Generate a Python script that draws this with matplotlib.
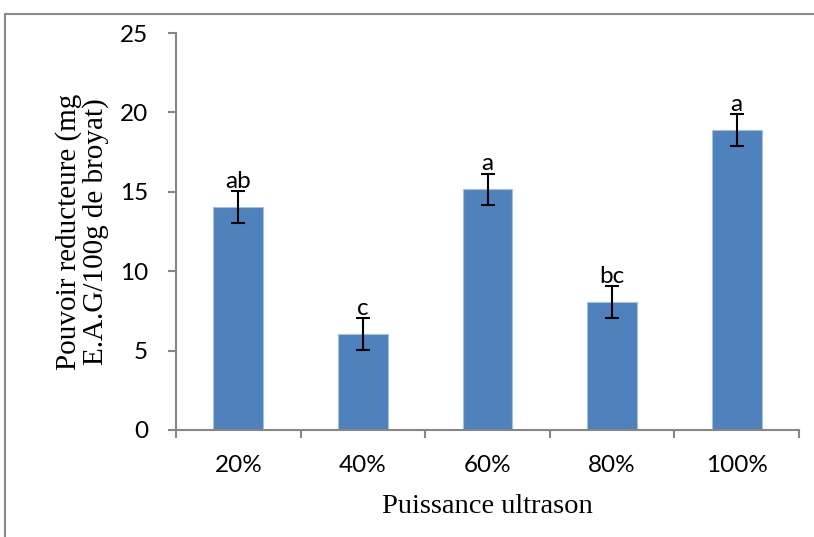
# Pouvoir reducteur selon la puissance ultrason - bar chart with error bars

import numpy as np
import matplotlib
matplotlib.use('Agg')
import matplotlib.pyplot as plt
from matplotlib.patches import Rectangle

categories = ['20%', '40%', '60%', '80%', '100%']
values = [14.05, 6.05, 15.15, 8.07, 18.87]
errors = [1.0, 1.0, 1.0, 1.0, 1.0]
letters = ['ab', 'c', 'a', 'bc', 'a']

grey = '#868686'
barColor = '#4F81BD'

fig = plt.figure(figsize=(8.14, 5.37), dpi=100)
ax = fig.add_axes([0.2162, 0.1993, 0.9816 - 0.2162, 0.9385 - 0.1993])

x = np.arange(len(categories))
ax.bar(x, values, width=0.4, color=barColor, edgecolor='#A7BFDE', linewidth=0.8, zorder=2)
ax.errorbar(x, values, yerr=errors, fmt='none', ecolor='black', elinewidth=1.5,
            capsize=4.8, capthick=1.5, zorder=3)

# significance letters just above the error bars
for xi, v, e, lab in zip(x, values, errors, letters):
    ax.text(xi, v + e + 0.2, lab, ha='center', va='baseline', fontsize=17.5,
            family='Lato', color='black')

ax.set_xlim(-0.5, len(categories) - 0.5)
ax.set_ylim(0, 25)
ax.set_yticks(np.arange(0, 26, 5))
ax.set_xticks(x)
ax.set_xticklabels(categories, family='Lato', fontsize=17.5)
for lab in ax.get_yticklabels():
    lab.set_family('Lato')
    lab.set_fontsize(17.5)

# x ticks sit on category boundaries
ax.set_xticks(np.arange(-0.5, len(categories), 1.0), minor=True)
ax.tick_params(axis='x', which='major', length=0, pad=18)
ax.tick_params(axis='x', which='minor', length=6, width=1.5, color=grey, direction='out')
ax.tick_params(axis='y', length=6, width=1.5, color=grey, direction='out', pad=14)

for side in ['top', 'right']:
    ax.spines[side].set_visible(False)
for side in ['left', 'bottom']:
    ax.spines[side].set_color(grey)
    ax.spines[side].set_linewidth(1.5)

ax.set_xlabel('Puissance ultrason', family='Liberation Serif', fontsize=20.5, labelpad=13)
ax.set_ylabel('Pouvoir reducteure (mg\nE.A.G/100g de broyat)', family='Liberation Serif',
              fontsize=21, linespacing=1.0, labelpad=8)

# chart frame (cut on the right and bottom)
fig.patches.append(Rectangle((5 / 814, -0.1), 1.2, (537 - 14) / 537 + 0.1,
                             transform=fig.transFigure, fill=False,
                             edgecolor='#8a8a8a', linewidth=1.5))

fig.savefig('out.png', dpi=100)
